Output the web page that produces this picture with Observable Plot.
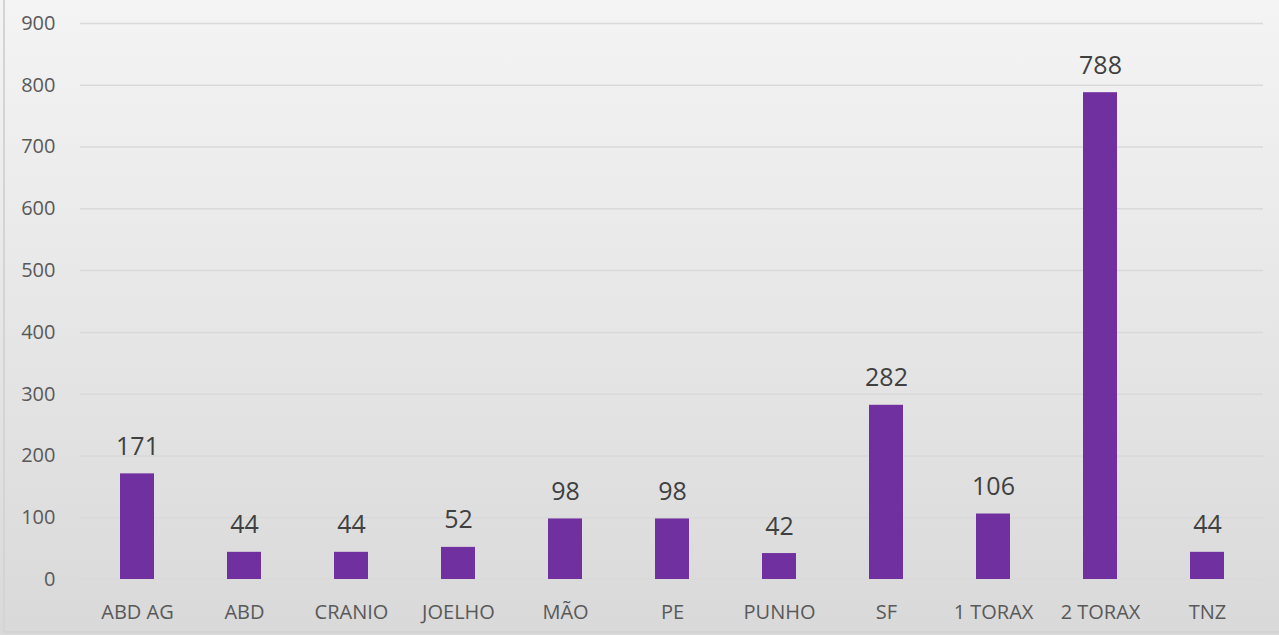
<!DOCTYPE html>
<html>
<head>
<meta charset="utf-8">
<script src="https://cdn.jsdelivr.net/npm/d3@7"></script>
<script src="https://cdn.jsdelivr.net/npm/@observablehq/plot@0.6"></script>
<style>
  html, body { margin: 0; padding: 0; }
  #wrap {
    position: relative; width: 1279px; height: 635px; overflow: hidden;
    background: linear-gradient(to bottom, #f4f4f4 0%, #d9d9d9 100%);
  }
  #frame {
    position: absolute; left: 3px; top: -2px; width: 1290px; height: 635px;
    border-left: 2px solid #d4d4d4; border-bottom: 2px solid #d4d4d4; box-sizing: border-box;
    pointer-events: none;
  }
  #wrap svg { position: absolute; left: 0; top: 0; }
</style>
</head>
<body>
<div id="wrap"><div id="frame"></div></div>
<script>
const categories = ["ABD AG", "ABD", "CRANIO", "JOELHO", "MÃO", "PE", "PUNHO", "SF", "1 TORAX", "2 TORAX", "TNZ"];
const values = [171, 44, 44, 52, 98, 98, 42, 282, 106, 788, 44];
const yTicks = [0, 100, 200, 300, 400, 500, 600, 700, 800, 900];

const data = categories.map((c, i) => ({category: c, value: values[i]}));

const chart = Plot.plot({
  width: 1279,
  height: 635,
  marginLeft: 80,
  marginRight: 16,
  marginTop: 23,
  marginBottom: 56,
  style: {background: "transparent", fontFamily: "'Open Sans', 'Noto Sans', sans-serif"},
  x: {domain: categories, paddingInner: 0.685, paddingOuter: 0.3425, label: null},
  y: {domain: [0, 900], ticks: yTicks, label: null},
  marks: [
    Plot.ruleY(yTicks, {stroke: "#d9d9d9", strokeWidth: 1.5}),
    Plot.barY(data, {x: "category", y: "value", fill: "#7030a0"}),
    Plot.text(data, {x: "category", y: "value", text: d => String(d.value), dy: -27, fontSize: 25, fill: "#404040"}),
    Plot.axisX({tickSize: 0, tickPadding: 25, fontSize: 20, color: "#595959", label: null}),
    Plot.axisY(yTicks, {tickSize: 0, tickPadding: 25, fontSize: 20, color: "#595959", label: null})
  ]
});
document.getElementById("wrap").appendChild(chart);
</script>
</body>
</html>
